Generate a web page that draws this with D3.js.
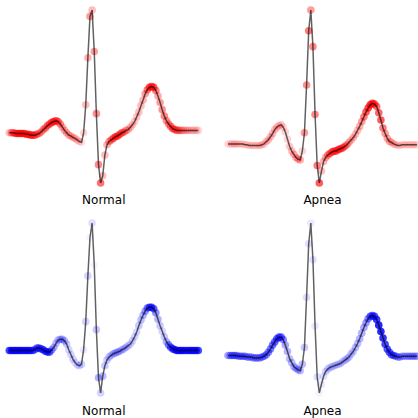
<!DOCTYPE html>
<html>
<head>
<meta charset="utf-8">
<script src="https://cdn.jsdelivr.net/npm/d3@7"></script>
<style>
  body { margin: 0; background: #fff; }
</style>
</head>
<body>
<div id="chart"></div>
<script>
// ECG beats (one value per sample)
const normalTop = [0,0,0,-0.01,-0.01,-0.01,-0.01,-0.01,-0.02,-0.02,-0.03,-0.03,-0.03,-0.02,-0.01,0.01,0.04,0.06,0.09,0.11,
  0.13,0.14,0.15,0.14,0.11,0.07,0.03,0,-0.03,-0.04,-0.06,-0.07,-0.09,-0.11,-0.12,0,0.35,0.94,1.46,1.54,
  1.02,0.24,-0.4,-0.63,-0.54,-0.28,-0.15,-0.11,-0.09,-0.07,-0.05,-0.04,-0.02,0,0.01,0.03,0.04,0.07,0.1,0.14,
  0.2,0.26,0.34,0.41,0.49,0.54,0.57,0.58,0.57,0.53,0.46,0.38,0.29,0.21,0.15,0.11,0.08,0.05,0.04,0.03,
  0.03,0.03,0.03,0.03,0.03,0.03,0.03,0.03,0.03,0.03];

const apneaTop = [0.01,0.01,0.01,0.01,0.01,0.01,0.01,0.01,0,0,-0.01,-0.01,-0.01,-0.01,-0.01,-0.01,0,0.01,0.04,0.06,
  0.1,0.14,0.19,0.22,0.24,0.25,0.22,0.16,0.07,-0.02,-0.08,-0.12,-0.16,-0.18,-0.19,-0.08,0.15,0.75,1.43,1.69,
  1.23,0.38,-0.26,-0.48,-0.33,-0.21,-0.16,-0.13,-0.11,-0.09,-0.08,-0.08,-0.06,-0.05,-0.04,-0.02,0,0.03,0.06,0.09,
  0.13,0.18,0.23,0.29,0.35,0.41,0.46,0.5,0.52,0.51,0.48,0.4,0.31,0.21,0.14,0.08,0.04,0.03,0.01,0,
  -0.01,-0.01,0,0,0,0,0,0,0,0];

const normalBottom = [0,0,0,0,0,0,0,0,0,0,0,0,0.01,0.03,0.03,0.02,0.01,-0.01,-0.02,-0.02,
  0.01,0.04,0.09,0.13,0.14,0.14,0.12,0.08,0.01,-0.05,-0.11,-0.15,-0.18,-0.19,-0.17,0.01,0.36,0.93,1.41,1.59,
  1.07,0.26,-0.34,-0.53,-0.32,-0.19,-0.12,-0.08,-0.06,-0.04,-0.03,-0.02,-0.01,0.01,0.02,0.04,0.06,0.08,0.12,0.17,
  0.23,0.31,0.38,0.44,0.49,0.53,0.54,0.54,0.52,0.47,0.39,0.31,0.24,0.17,0.11,0.07,0.04,0.02,0.01,0,
  0,0,0,0,0,0,0,0,0,0];

const apneaBottom = [0.01,0.01,0.01,0.01,0.01,0,0,0,0,-0.01,-0.01,-0.01,-0.02,-0.02,-0.02,-0.02,-0.01,0,0.02,0.05,
  0.09,0.14,0.18,0.22,0.24,0.24,0.21,0.14,0.06,-0.03,-0.08,-0.13,-0.15,-0.17,-0.18,-0.1,0.11,0.74,1.41,1.67,
  1.21,0.38,-0.26,-0.46,-0.35,-0.25,-0.19,-0.16,-0.14,-0.13,-0.12,-0.11,-0.1,-0.09,-0.07,-0.05,-0.03,-0.01,0.03,0.06,
  0.11,0.16,0.22,0.29,0.36,0.42,0.47,0.5,0.51,0.5,0.46,0.39,0.31,0.23,0.15,0.09,0.05,0.02,0.01,0,
  -0.01,-0.01,0,0,0,0,0,0,0,0];

// saliency per sample (used as dot opacity)
const salNormalRed = [0.3,0.5,0.6,0.75,0.8,0.85,0.85,0.8,0.8,0.75,0.7,0.7,0.6,0.5,0.45,0.45,0.5,0.55,0.6,0.65,
  0.7,0.75,0.7,0.6,0.5,0.4,0.35,0.35,0.3,0.3,0.3,0.25,0.25,0.2,0.15,0.2,0.3,0.35,0.45,0.3,
  0.45,0.5,0.55,0.65,0.3,0.3,0.35,0.45,0.55,0.65,0.7,0.7,0.65,0.6,0.5,0.4,0.3,0.3,0.25,0.25,
  0.25,0.3,0.3,0.35,0.45,0.6,0.75,0.8,0.75,0.6,0.4,0.45,0.5,0.55,0.5,0.5,0.6,0.65,0.6,0.55,
  0.45,0.35,0.3,0.25,0.25,0.2,0.2,0.2,0.2,0.2];

const salApneaRed = [0.15,0.15,0.2,0.2,0.2,0.15,0.15,0.15,0.15,0.15,0.15,0.15,0.15,0.15,0.15,0.2,0.2,0.2,0.25,0.25,
  0.3,0.3,0.3,0.25,0.25,0.25,0.2,0.2,0.2,0.25,0.3,0.35,0.35,0.4,0.35,0.2,0.45,0.5,0.6,0.45,
  0.55,0.55,0.6,0.75,0.3,0.35,0.4,0.5,0.6,0.65,0.7,0.7,0.75,0.7,0.65,0.55,0.45,0.35,0.3,0.3,
  0.3,0.3,0.35,0.45,0.6,0.75,0.85,0.9,0.85,0.75,0.65,0.7,0.75,0.6,0.45,0.4,0.35,0.3,0.25,0.2,
  0.15,0.15,0.15,0.15,0.15,0.15,0.15,0.15,0.15,0.15];

const salNormalBlue = [0.85,0.9,0.9,0.9,0.9,0.9,0.85,0.85,0.85,0.85,0.8,0.7,0.6,0.65,0.7,0.7,0.75,0.8,0.8,0.7,
  0.45,0.35,0.3,0.3,0.3,0.35,0.3,0.25,0.2,0.2,0.2,0.15,0.15,0.2,0.2,0.1,0.2,0.2,0.05,0.15,
  0.05,0.25,0.35,0.2,0.3,0.25,0.25,0.25,0.25,0.3,0.3,0.3,0.3,0.25,0.25,0.25,0.2,0.2,0.2,0.2,
  0.2,0.25,0.3,0.35,0.45,0.6,0.75,0.8,0.7,0.5,0.35,0.25,0.2,0.25,0.35,0.55,0.7,0.8,0.85,0.9,
  0.9,0.9,0.85,0.8,0.8,0.85,0.85,0.85,0.85,0.85];

const salApneaBlue = [0.4,0.45,0.5,0.5,0.5,0.45,0.45,0.45,0.45,0.4,0.4,0.4,0.4,0.4,0.4,0.4,0.45,0.5,0.5,0.55,
  0.6,0.65,0.65,0.7,0.7,0.65,0.55,0.4,0.35,0.3,0.3,0.3,0.35,0.35,0.3,0.3,0.25,0.15,0.15,0.1,
  0.15,0.1,0.15,0.05,0.1,0.15,0.2,0.2,0.2,0.2,0.2,0.2,0.2,0.2,0.2,0.25,0.25,0.25,0.25,0.25,
  0.3,0.3,0.35,0.35,0.4,0.45,0.55,0.7,0.75,0.8,0.9,1.0,1.0,0.95,0.85,0.8,0.75,0.7,0.6,0.5,
  0.4,0.35,0.35,0.3,0.3,0.35,0.35,0.35,0.35,0.35];

const labels = ["Normal", "Apnea", "Normal", "Apnea"];

const panels = [
  { beat: normalTop,    sal: salNormalRed,  color: "255,0,0", x: [9.3, 198.3], y: [183, 10],  labelY: 204 },
  { beat: apneaTop,     sal: salApneaRed,   color: "255,0,0", x: [228, 417],   y: [183, 10],  labelY: 204 },
  { beat: normalBottom, sal: salNormalBlue, color: "0,0,255", x: [9.3, 198.3], y: [393, 223], labelY: 415 },
  { beat: apneaBottom,  sal: salApneaBlue,  color: "0,0,255", x: [228, 417],   y: [393, 223], labelY: 415 },
];

const svg = d3.select("#chart")
  .append("svg")
  .attr("width", 418)
  .attr("height", 418);

panels.forEach((p, k) => {
  const x = d3.scaleLinear().domain([0, p.beat.length - 1]).range(p.x);
  const y = d3.scaleLinear().domain(d3.extent(p.beat)).range(p.y);
  const g = svg.append("g");

  // saliency dots
  g.selectAll("circle")
    .data(p.beat)
    .enter()
    .append("circle")
    .attr("cx", (d, i) => x(i))
    .attr("cy", (d) => y(d))
    .attr("r", 3.8)
    .attr("fill", `rgb(${p.color})`)
    .attr("fill-opacity", (d, i) => p.sal[i] * 0.85);

  // the beat itself
  g.append("path")
    .datum(p.beat)
    .attr("fill", "none")
    .attr("stroke", "#000")
    .attr("stroke-opacity", 0.62)
    .attr("stroke-width", 1.5)
    .attr("d", d3.line().x((d, i) => x(i)).y((d) => y(d)));

  g.append("text")
    .attr("x", (p.x[0] + p.x[1]) / 2)
    .attr("y", p.labelY)
    .attr("text-anchor", "middle")
    .attr("font-family", "'DejaVu Sans', Verdana, sans-serif")
    .attr("font-size", 12)
    .attr("fill", "#000")
    .text(labels[k]);
});
</script>
</body>
</html>
